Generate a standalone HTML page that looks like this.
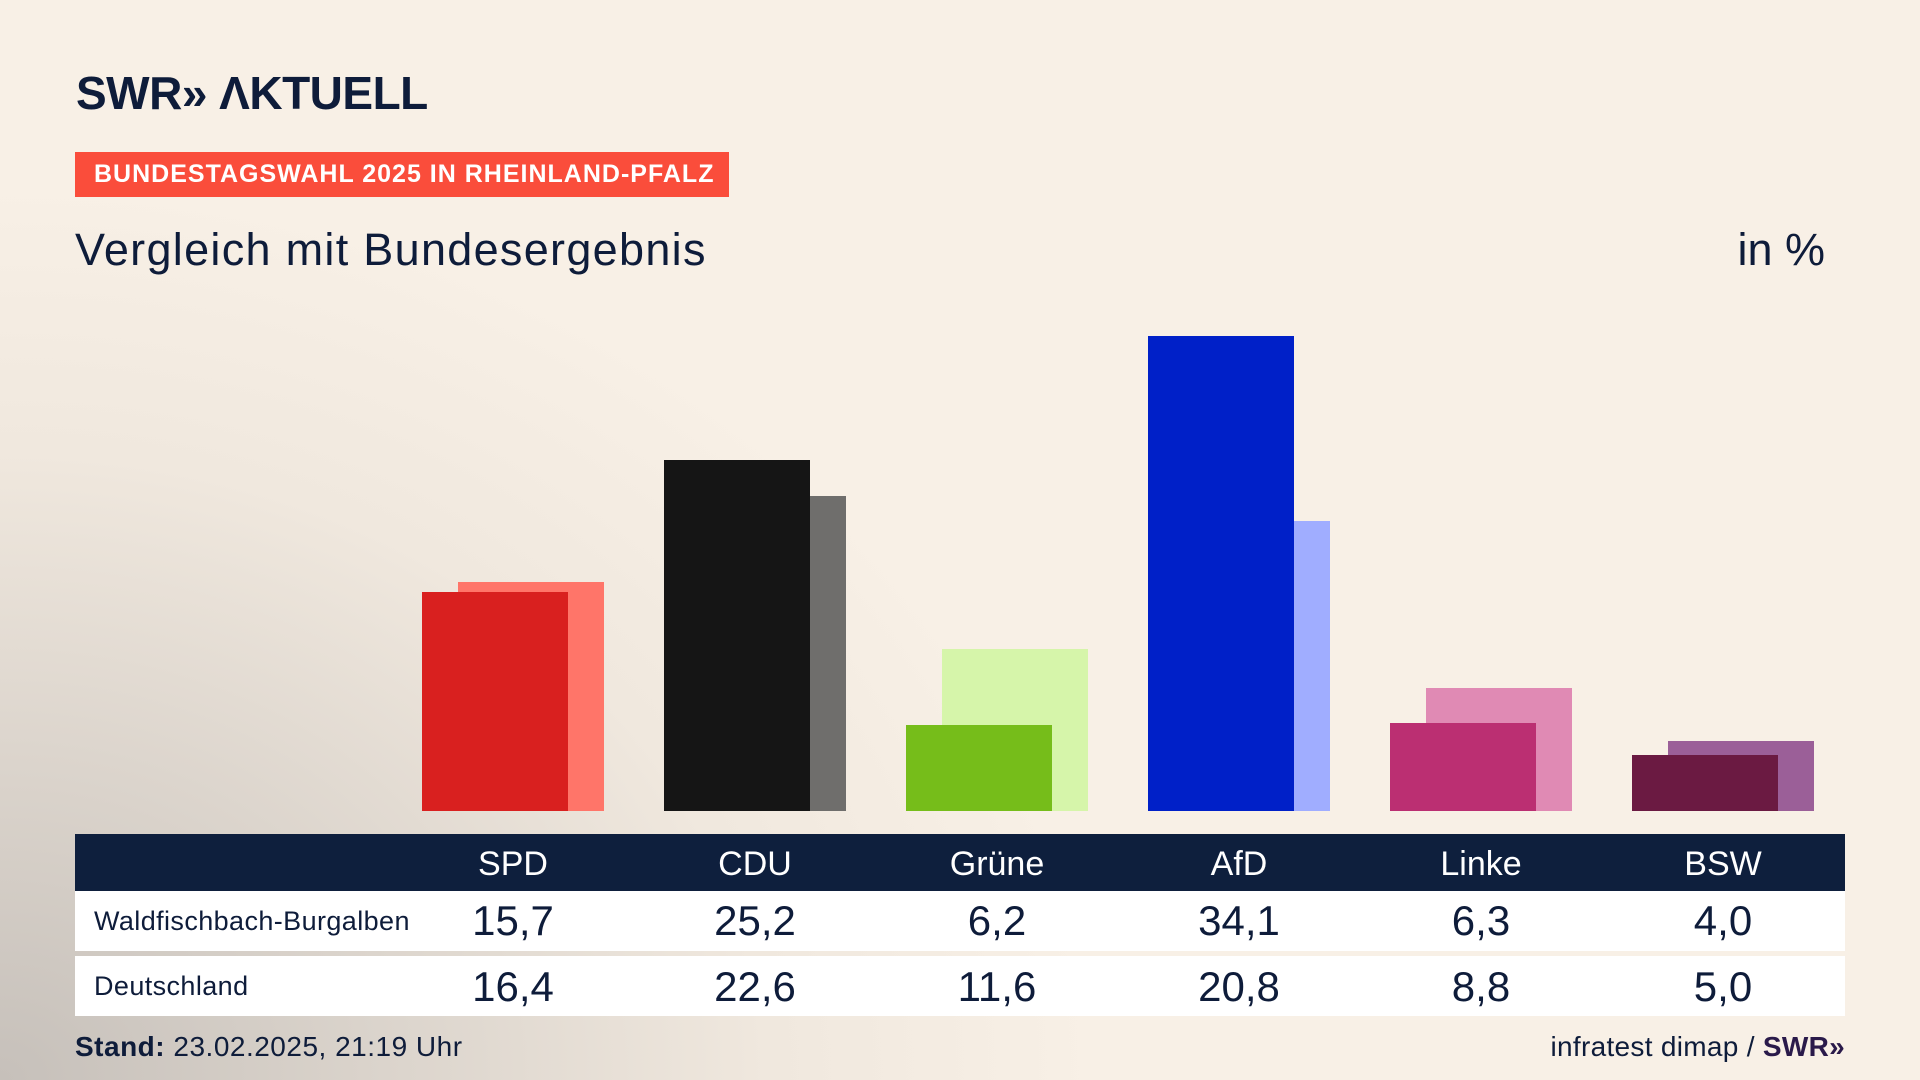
<!DOCTYPE html>
<html><head><meta charset="utf-8"><style>
*{margin:0;padding:0;box-sizing:border-box}
body{width:1920px;height:1080px;overflow:hidden;position:relative;font-family:"Liberation Sans",sans-serif;color:#0e1c3a;
background:radial-gradient(ellipse 1100px 900px at 0px 1080px,#c6c0ba 0%,#dbd4cc 35%,#f0e8de 70%,#f8f0e6 100%),#f8f0e6;}
.a{position:absolute}
.logo{left:76px;top:66px;font-size:46px;font-weight:bold;letter-spacing:-0.5px;color:#0e1c3a}
.ban{left:75px;top:152px;width:654px;height:45px;background:#fa4d3b;color:#fff;font-weight:bold;font-size:25px;line-height:45px;padding-left:19px;letter-spacing:1px}
.title{left:75px;top:224px;font-size:45px;letter-spacing:1.3px;color:#0e1c3a}
.unit{right:95px;top:224px;font-size:45px}
.bar{position:absolute}
.hdr{left:75px;top:834px;width:1770px;height:57px;background:#0e1f3d}
.row{left:75px;width:1770px;height:60px;background:#fff}
.lab{position:absolute;width:240px;text-align:center;transform:translateX(-120px)}
.h{color:#fff;font-size:34px;top:845px}
.v{font-size:42px}
.rl{position:absolute;left:94px;font-size:27px;letter-spacing:0.4px}
</style></head><body>
<div class="a logo">SWR» ΛKTUELL</div>
<div class="a ban">BUNDESTAGSWAHL 2025 IN RHEINLAND-PFALZ</div>
<div class="a title">Vergleich mit Bundesergebnis</div>
<div class="a unit">in %</div>

<div class="bar" style="left:458px;width:146px;top:582px;height:229px;background:#ff7569"></div>
<div class="bar" style="left:422px;width:146px;top:592px;height:219px;background:#d9201f"></div>

<div class="bar" style="left:700px;width:146px;top:496px;height:315px;background:#6f6e6c"></div>
<div class="bar" style="left:664px;width:146px;top:460px;height:351px;background:#151515"></div>

<div class="bar" style="left:942px;width:146px;top:649px;height:162px;background:#d6f5aa"></div>
<div class="bar" style="left:906px;width:146px;top:725px;height:86px;background:#76bd1a"></div>

<div class="bar" style="left:1184px;width:146px;top:521px;height:290px;background:#a0adff"></div>
<div class="bar" style="left:1148px;width:146px;top:336px;height:475px;background:#0020c8"></div>

<div class="bar" style="left:1426px;width:146px;top:688px;height:123px;background:#e08ab4"></div>
<div class="bar" style="left:1390px;width:146px;top:723px;height:88px;background:#bb2f72"></div>

<div class="bar" style="left:1668px;width:146px;top:741px;height:70px;background:#9b5f98"></div>
<div class="bar" style="left:1632px;width:146px;top:755px;height:56px;background:#6b1a42"></div>

<div class="a hdr"></div>
<div class="a row" style="top:891px"></div>
<div class="a row" style="top:956px"></div>

<div class="lab h" style="left:513px">SPD</div>
<div class="lab h" style="left:755px">CDU</div>
<div class="lab h" style="left:997px">Grüne</div>
<div class="lab h" style="left:1239px">AfD</div>
<div class="lab h" style="left:1481px">Linke</div>
<div class="lab h" style="left:1723px">BSW</div>

<div class="rl" style="top:906px">Waldfischbach-Burgalben</div>
<div class="rl" style="top:971px">Deutschland</div>

<div class="lab v" style="left:513px;top:897px">15,7</div>
<div class="lab v" style="left:755px;top:897px">25,2</div>
<div class="lab v" style="left:997px;top:897px">6,2</div>
<div class="lab v" style="left:1239px;top:897px">34,1</div>
<div class="lab v" style="left:1481px;top:897px">6,3</div>
<div class="lab v" style="left:1723px;top:897px">4,0</div>

<div class="lab v" style="left:513px;top:963px">16,4</div>
<div class="lab v" style="left:755px;top:963px">22,6</div>
<div class="lab v" style="left:997px;top:963px">11,6</div>
<div class="lab v" style="left:1239px;top:963px">20,8</div>
<div class="lab v" style="left:1481px;top:963px">8,8</div>
<div class="lab v" style="left:1723px;top:963px">5,0</div>

<div class="a" style="left:75px;top:1031px;font-size:28px;letter-spacing:0.5px"><b>Stand:</b> 23.02.2025, 21:19 Uhr</div>
<div class="a" style="right:75px;top:1031px;font-size:28px;letter-spacing:0.3px">infratest dimap / <b style="color:#2a1a4a">SWR»</b></div>
</body></html>
